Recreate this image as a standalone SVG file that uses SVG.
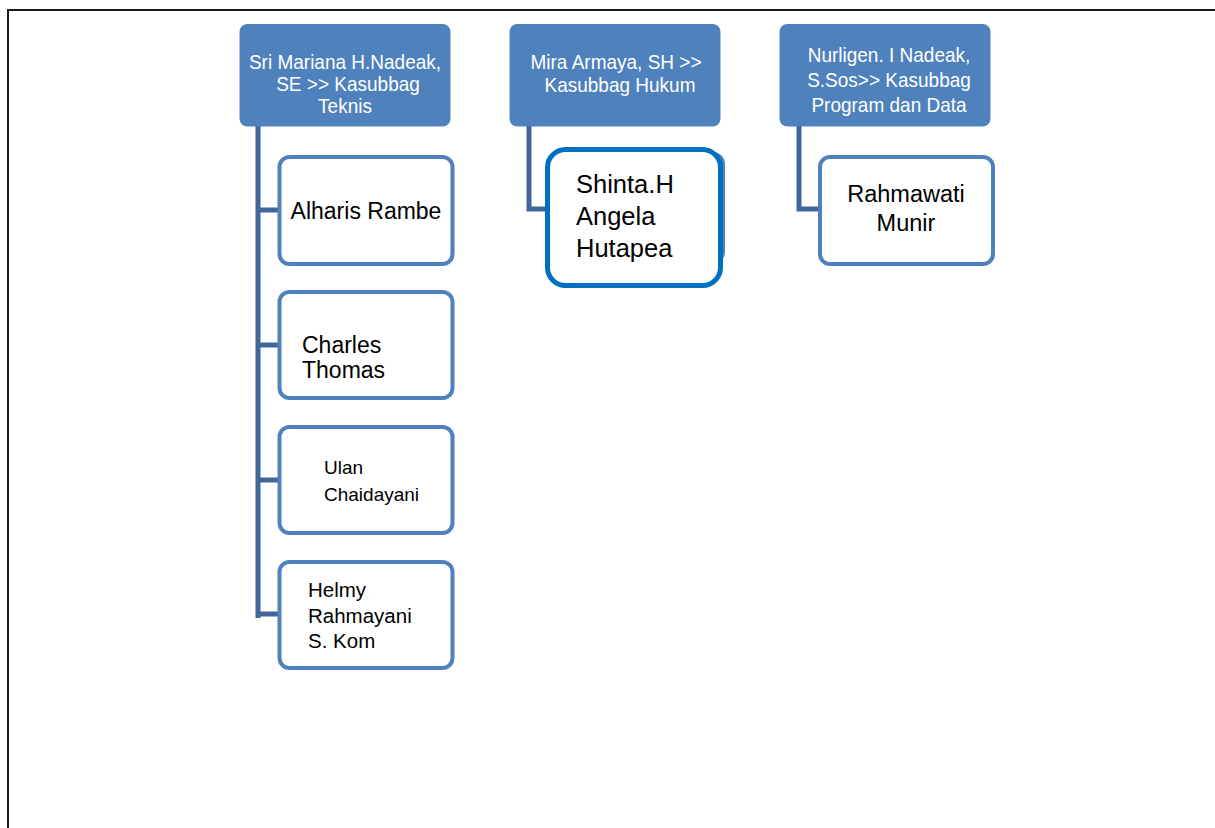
<svg xmlns="http://www.w3.org/2000/svg" width="1215" height="828" viewBox="0 0 1215 828">
<style>
.head{fill:#4F81BD;}
.ht{fill:#FFFFFF;font-family:"Liberation Sans",Arial,sans-serif;font-size:19px;}
.child{fill:#FFFFFF;stroke:#4F81BD;stroke-width:4;}
.ct{fill:#000000;font-family:"Liberation Sans",Arial,sans-serif;}
.conn{fill:none;stroke:#41679A;stroke-width:5;}
</style>
<rect width="1215" height="828" fill="#FFFFFF"/>
<g id="frame">
<line x1="8" y1="10" x2="1215" y2="10" stroke="#1a1a1a" stroke-width="2"/>
<line x1="8" y1="9" x2="8" y2="828" stroke="#1a1a1a" stroke-width="2"/>
</g>
<g id="connectors">
<path class="conn" d="M258 126 V618 M256 210 H279 M256 345 H279 M256 480 H279 M256 614 H279"/>
<path class="conn" d="M529 126 V209 H547"/>
<path class="conn" d="M799 126 V209 H819"/>
</g>
<g id="head1">
<rect class="head" x="239.5" y="24" width="211" height="102.5" rx="8"/>
<text class="ht" text-anchor="middle" transform="translate(345,69) scale(1,1.1)"><tspan x="0" y="0">Sri Mariana H.Nadeak,</tspan><tspan x="3" y="20">SE &gt;&gt; Kasubbag</tspan><tspan x="0" y="40">Teknis</tspan></text>
</g>
<g id="head2">
<rect class="head" x="509.5" y="24" width="211" height="102.5" rx="8"/>
<text class="ht" text-anchor="middle" transform="translate(616,69) scale(1,1.1)"><tspan x="0" y="0">Mira Armaya, SH &gt;&gt;</tspan><tspan x="4" y="21">Kasubbag Hukum</tspan></text>
</g>
<g id="head3">
<rect class="head" x="779.5" y="24" width="211" height="102.5" rx="8"/>
<text class="ht" text-anchor="middle" transform="translate(889,62) scale(1,1.1)"><tspan x="0" y="0">Nurligen. I Nadeak,</tspan><tspan x="0" y="22.7">S.Sos&gt;&gt; Kasubbag</tspan><tspan x="0" y="45.5">Program dan Data</tspan></text>
</g>
<g id="child1">
<rect class="child" x="279.5" y="157" width="173" height="107" rx="10"/>
<text class="ct" font-size="23" x="366" y="219" text-anchor="middle">Alharis Rambe</text>
</g>
<g id="child2">
<rect class="child" x="279.5" y="292" width="173" height="106" rx="10"/>
<text class="ct" font-size="23"><tspan x="302" y="353">Charles</tspan><tspan x="302" y="378">Thomas</tspan></text>
</g>
<g id="child3">
<rect class="child" x="279.5" y="427" width="173" height="106" rx="10"/>
<text class="ct" font-size="19"><tspan x="324" y="474">Ulan</tspan><tspan x="324" y="501">Chaidayani</tspan></text>
</g>
<g id="child4">
<rect class="child" x="279.5" y="562" width="173" height="106" rx="10"/>
<text class="ct" font-size="20.5"><tspan x="308" y="597">Helmy</tspan><tspan x="308" y="623">Rahmayani</tspan><tspan x="308" y="648">S. Kom</tspan></text>
</g>
<g id="child5">
<rect class="child" x="548" y="154" width="175" height="108" rx="10"/>
<rect x="547.5" y="149.5" width="173" height="136" rx="18" fill="#FFFFFF" stroke="#0070C0" stroke-width="5"/>
<text class="ct" font-size="25.5"><tspan x="576" y="193">Shinta.H</tspan><tspan x="576" y="225">Angela</tspan><tspan x="576" y="257">Hutapea</tspan></text>
</g>
<g id="child6">
<rect class="child" x="820" y="157" width="173" height="107" rx="10"/>
<text class="ct" font-size="23.5" text-anchor="middle"><tspan x="906" y="202">Rahmawati</tspan><tspan x="906" y="231">Munir</tspan></text>
</g>
</svg>
